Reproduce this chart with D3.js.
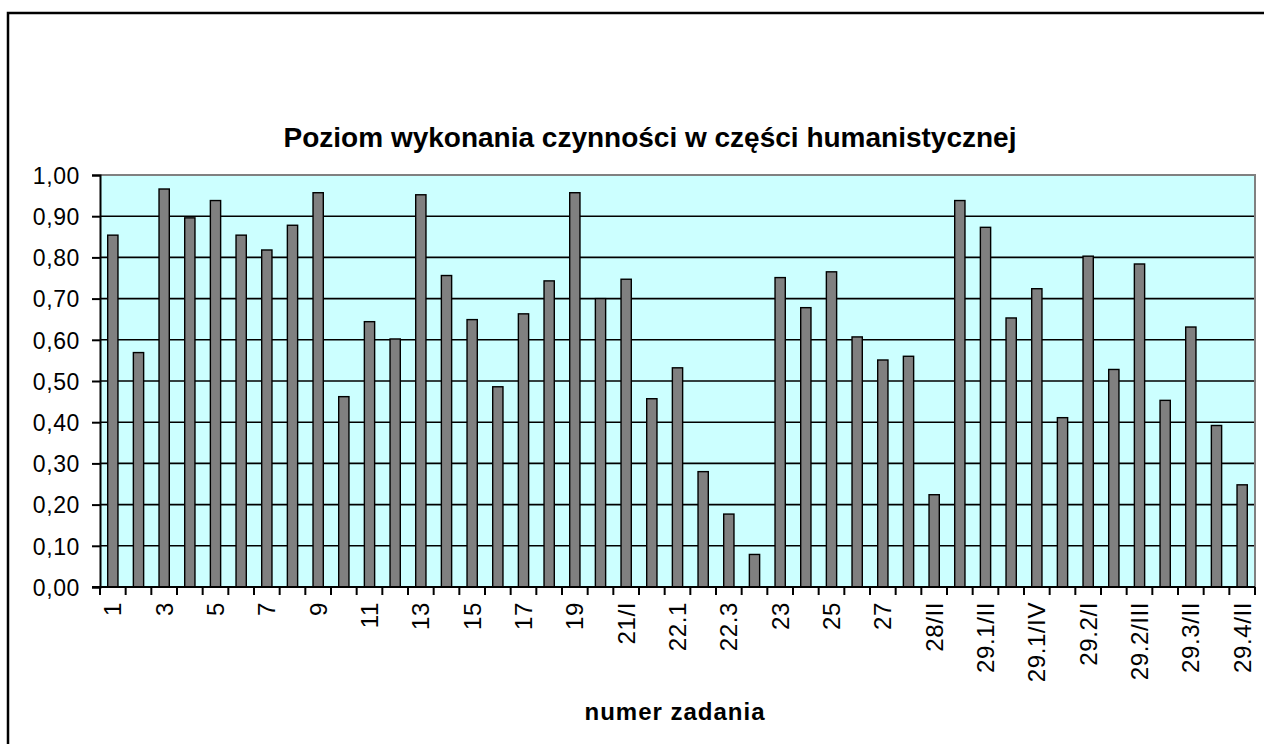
<!DOCTYPE html>
<html>
<head>
<meta charset="utf-8">
<script src="https://cdn.jsdelivr.net/npm/d3@7"></script>
<style>
    body { margin: 0; background: #fff; }
    svg text { font-family: "Liberation Sans", Arial, sans-serif; fill: #000; }
</style>
</head>
<body>
<svg id="chart" width="1264" height="744"></svg>
<script>
var zadania = ["1", "2", "3", "4", "5", "6", "7", "8", "9", "10",
    "11", "12", "13", "14", "15", "16", "17", "18", "19", "20",
    "21/I", "21/II", "22.1", "22.2", "22.3", "22.4", "23", "24", "25", "26",
    "27", "28/I", "28/II", "29.1/I", "29.1/II", "29.1/III", "29.1/IV", "29.1/V",
    "29.2/I", "29.2/II", "29.2/III", "29.3/I", "29.3/II", "29.4/I", "29.4/II"];

var poziom = [0.854, 0.569, 0.966, 0.896, 0.938, 0.854, 0.818, 0.878, 0.957, 0.462,
    0.644, 0.602, 0.952, 0.756, 0.649, 0.486, 0.663, 0.743, 0.957, 0.700,
    0.747, 0.457, 0.532, 0.280, 0.177, 0.079, 0.751, 0.678, 0.765, 0.607,
    0.551, 0.560, 0.224, 0.938, 0.873, 0.653, 0.724, 0.411,
    0.803, 0.528, 0.784, 0.453, 0.631, 0.392, 0.248];

var yTicks = [0, 0.1, 0.2, 0.3, 0.4, 0.5, 0.6, 0.7, 0.8, 0.9, 1.0];

var title = "Poziom wykonania czynności w części humanistycznej";
var xTitle = "numer zadania";

var svg = d3.select("#chart");
var plot = {left: 100, right: 1255, top: 175, bottom: 587};

// outer frame
svg.append("rect")
    .attr("x", 8).attr("y", 13)
    .attr("width", 1270).attr("height", 750)
    .attr("fill", "none")
    .attr("stroke", "#000")
    .attr("stroke-width", 2.5);

var x = d3.scaleBand()
    .domain(zadania)
    .range([plot.left, plot.right])
    .paddingInner(0.6)
    .paddingOuter(0.3);

var y = d3.scaleLinear()
    .domain([0, 1])
    .range([plot.bottom, plot.top]);

// plot background
svg.append("rect")
    .attr("x", plot.left).attr("y", plot.top)
    .attr("width", plot.right - plot.left)
    .attr("height", plot.bottom - plot.top)
    .attr("fill", "#ccffff");

// grid lines
svg.append("g").attr("class", "grid")
    .selectAll("line")
    .data(yTicks.filter(function (d) { return d > 0 && d < 1; }))
    .enter().append("line")
    .attr("x1", plot.left).attr("x2", plot.right)
    .attr("y1", function (d) { return y(d); })
    .attr("y2", function (d) { return y(d); })
    .attr("stroke", "#000")
    .attr("stroke-width", 1.6);

// gray plot border (top + right)
svg.append("path")
    .attr("d", ["M", plot.left, plot.top, "L", plot.right, plot.top, "L", plot.right, plot.bottom].join(" "))
    .attr("fill", "none")
    .attr("stroke", "#808080")
    .attr("stroke-width", 2);

// bars
svg.append("g").attr("class", "bars")
    .selectAll("rect")
    .data(poziom)
    .enter().append("rect")
    .attr("x", function (d, i) { return x(zadania[i]); })
    .attr("y", function (d) { return y(d); })
    .attr("width", x.bandwidth())
    .attr("height", function (d) { return y(0) - y(d); })
    .attr("fill", "#808080")
    .attr("stroke", "#000")
    .attr("stroke-width", 1.4);

// y axis
var yAxis = d3.axisLeft(y)
    .tickValues(yTicks)
    .tickSize(8)
    .tickPadding(12)
    .tickFormat(function (d) { return d3.format(".2f")(d).replace(".", ","); });

var gy = svg.append("g")
    .attr("transform", "translate(" + plot.left + ",0)")
    .call(yAxis);
gy.select(".domain").attr("stroke", "#000").attr("stroke-width", 2);
gy.selectAll(".tick line").attr("stroke", "#000").attr("stroke-width", 2);
gy.selectAll("text")
    .style("font-size", "23px")
    .style("letter-spacing", "0.6px")
    .attr("dy", "0.36em");

// x axis: labels on every second category
var xAxis = d3.axisBottom(x)
    .tickValues(zadania.filter(function (d, i) { return i % 2 === 0; }))
    .tickSize(0);

var gx = svg.append("g")
    .attr("transform", "translate(0," + plot.bottom + ")")
    .call(xAxis);
gx.select(".domain").remove();
gx.selectAll("text")
    .style("font-size", "24px")
    .style("letter-spacing", "0.6px")
    .attr("text-anchor", "end")
    .attr("transform", "rotate(-90)")
    .attr("x", -15)
    .attr("y", 0)
    .attr("dy", "0.36em");

// category boundary ticks + axis line
var bounds = zadania.map(function (d) { return x(d) - x.bandwidth() * 0.75; });
bounds.push(plot.right);
gx.selectAll("line.bound")
    .data(bounds)
    .enter().append("line")
    .attr("class", "bound")
    .attr("x1", function (d) { return d; })
    .attr("x2", function (d) { return d; })
    .attr("y1", 0).attr("y2", 8)
    .attr("stroke", "#000")
    .attr("stroke-width", 2);
gx.append("line")
    .attr("x1", plot.left - 8).attr("x2", plot.right)
    .attr("y1", 0).attr("y2", 0)
    .attr("stroke", "#000")
    .attr("stroke-width", 2);

// titles
svg.append("text")
    .attr("x", 650).attr("y", 147)
    .attr("text-anchor", "middle")
    .style("font-size", "28px")
    .style("font-weight", "bold")
    .text(title);

svg.append("text")
    .attr("x", 675).attr("y", 720)
    .attr("text-anchor", "middle")
    .style("font-size", "24px")
    .style("font-weight", "bold")
    .style("letter-spacing", "1px")
    .text(xTitle);
</script>
</body>
</html>
